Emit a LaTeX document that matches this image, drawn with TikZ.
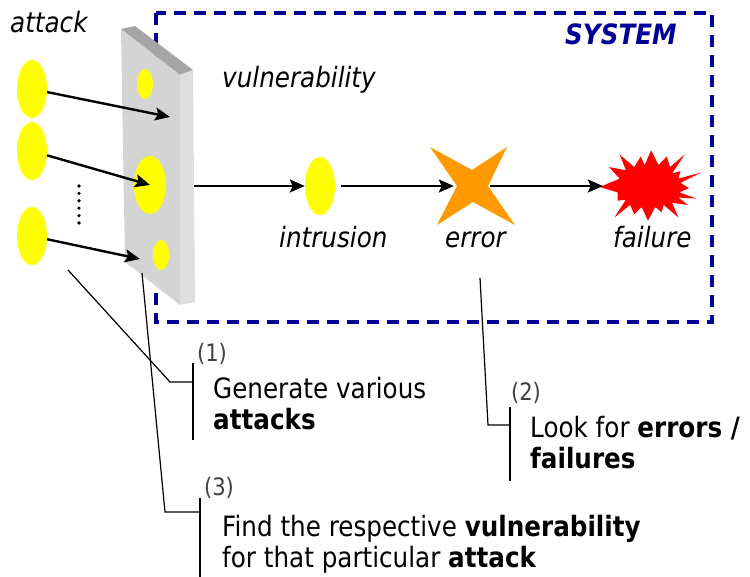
\documentclass[tikz,border=0pt]{standalone}
\usepackage{fontspec}
\setmainfont[FakeStretch=0.88]{DejaVu Sans}
\usetikzlibrary{shapes.geometric,arrows.meta}
\definecolor{sysblue}{RGB}{0,0,150}
\definecolor{hole}{RGB}{255,255,0}
\definecolor{errorange}{RGB}{255,153,0}
\definecolor{failred}{RGB}{255,0,0}
\definecolor{slabfront}{RGB}{212,212,212}
\definecolor{slabtop}{RGB}{165,165,165}
\definecolor{slabside}{RGB}{222,222,222}
\begin{document}
\begin{tikzpicture}[x=1pt,y=-1pt,
  flow/.style={line width=2.4pt,-{Stealth[length=15pt,width=13pt,inset=3pt]}},
  blob/.style={ellipse,fill=hole,draw=none,inner sep=0pt},
  lbl/.style={font=\fontsize{28}{30}\selectfont\itshape,inner sep=0pt,anchor=base west},
  note/.style={font=\fontsize{28}{31}\selectfont,align=left,anchor=base west,inner sep=0pt},
  num/.style={font=\fontsize{24}{24}\selectfont,inner sep=0pt,text=black!75},
  leader/.style={line width=1.2pt}]
\useasboundingbox (0,0) rectangle (750,577);

% system boundary
\draw[sysblue,line width=3.5pt,dash pattern=on 12pt off 8pt] (156,13) rectangle (712,322);
\node[lbl,font=\fontsize{28}{30}\selectfont\bfseries\itshape,text=sysblue] (sys) at (565,45) {SYSTEM};

% the vulnerable slab
\fill[slabtop] (121,29) -- (135,26) -- (193,70) -- (180,75) -- cycle;
\fill[slabfront] (121,29) -- (180,75) -- (180,305) -- (125,262) -- cycle;
\fill[slabside] (180,75) -- (193,70) -- (195,302) -- (180,305) -- cycle;
\node[blob,minimum width=16pt,minimum height=30pt] (h1) at (145,84) {};
\node[blob,minimum width=32pt,minimum height=58pt] (h2) at (150,185) {};
\node[blob,minimum width=16pt,minimum height=30pt] (h3) at (161,255) {};
\coordinate (t1) at (170,117);
\coordinate (t3) at (140,259);
\coordinate (slabout) at (194,186);

% attacks
\node[lbl] (attack) at (10,33) {attack};
\node[blob,minimum width=30pt,minimum height=58pt] (a1) at (32,89) {};
\node[blob,minimum width=30pt,minimum height=58pt] (a2) at (32,151) {};
\node[blob,minimum width=30pt,minimum height=58pt] (a3) at (32,236) {};
\foreach \i in {0,...,5} \fill (79,186+7.4*\i) circle (1.8pt);
\draw[flow] (a1) -- (t1);
\draw[flow] (a2) -- (h2.center);
\draw[flow] (a3) -- (t3);

\node[lbl] (vuln) at (222,88) {vulnerability};

% intrusion -> error -> failure
\node[blob,minimum width=30pt,minimum height=58pt] (intr) at (320,186) {};
\node[circle,minimum size=36pt,inner sep=0pt] (err) at (472,186) {};
\fill[errorange] (430,147) -- (472,170) -- (507,147) -- (488,186) -- (515,225)
  -- (473,202) -- (437,225) -- (457,186) -- cycle;
\node[circle,minimum size=90pt,inner sep=0pt] (fail) at (648,186) {};
\fill[failred,shift={(649,186)},scale=1.05]
  (-47,1) -- (-30,6) -- (-30,14) -- (-22,13) -- (-33,30) -- (-18,18)
  -- (-14,27) -- (-7,20) -- (-1,33) -- (6,20) -- (12,25) -- (14,18)
  -- (28,30) -- (22,16) -- (37,18) -- (28,11) -- (45,12) -- (29,6)
  -- (38,2) -- (30,-3) -- (50,-13) -- (28,-7) -- (30,-14) -- (22,-12)
  -- (34,-30) -- (20,-18) -- (17,-28) -- (9,-20) -- (2,-34) -- (-4,-20)
  -- (-8,-28) -- (-14,-18) -- (-28,-30) -- (-22,-15) -- (-38,-18)
  -- (-28,-7) -- cycle;
\draw[flow] (slabout) -- (intr);
\draw[flow,shorten <=6pt] (intr) -- (err);
\draw[flow] (err) -- (fail);
\node[lbl] (intrlbl) at (279,248) {intrusion};
\node[lbl] (errlbl) at (445,248) {error};
\node[lbl] (faillbl) at (613,248) {failure};

% callout (1)
\coordinate (c1) at (68,270);
\coordinate (k1) at (170,382);
\coordinate (b1) at (193,382);
\draw[leader] (c1) -- (k1) -- (b1);
\draw[leader] (193,363) -- (193,440);
\node[num] (n1) at (212,354) {(1)};
\node[note] (note1) at (213,429) {Generate various\\\textbf{attacks}};

% callout (2)
\coordinate (c2) at (480,278);
\coordinate (k2) at (488,425);
\coordinate (b2) at (510,425);
\draw[leader] (c2) -- (k2) -- (b2);
\draw[leader] (510,407) -- (510,481);
\node[num] (n2) at (526,393) {(2)};
\node[note] (note2) at (530,468) {Look for \textbf{errors /}\\\textbf{failures}};

% callout (3)
\coordinate (c3) at (142,273);
\coordinate (k3) at (165,512);
\coordinate (b3) at (200,512);
\draw[leader] (c3) -- (k3) -- (b3);
\draw[leader] (200,498) -- (200,577);
\node[num] (n3) at (219,488) {(3)};
\node[note] (note3) at (222,567) {Find the respective \textbf{vulnerability}\\for that particular \textbf{attack}};
\end{tikzpicture}
\end{document}
